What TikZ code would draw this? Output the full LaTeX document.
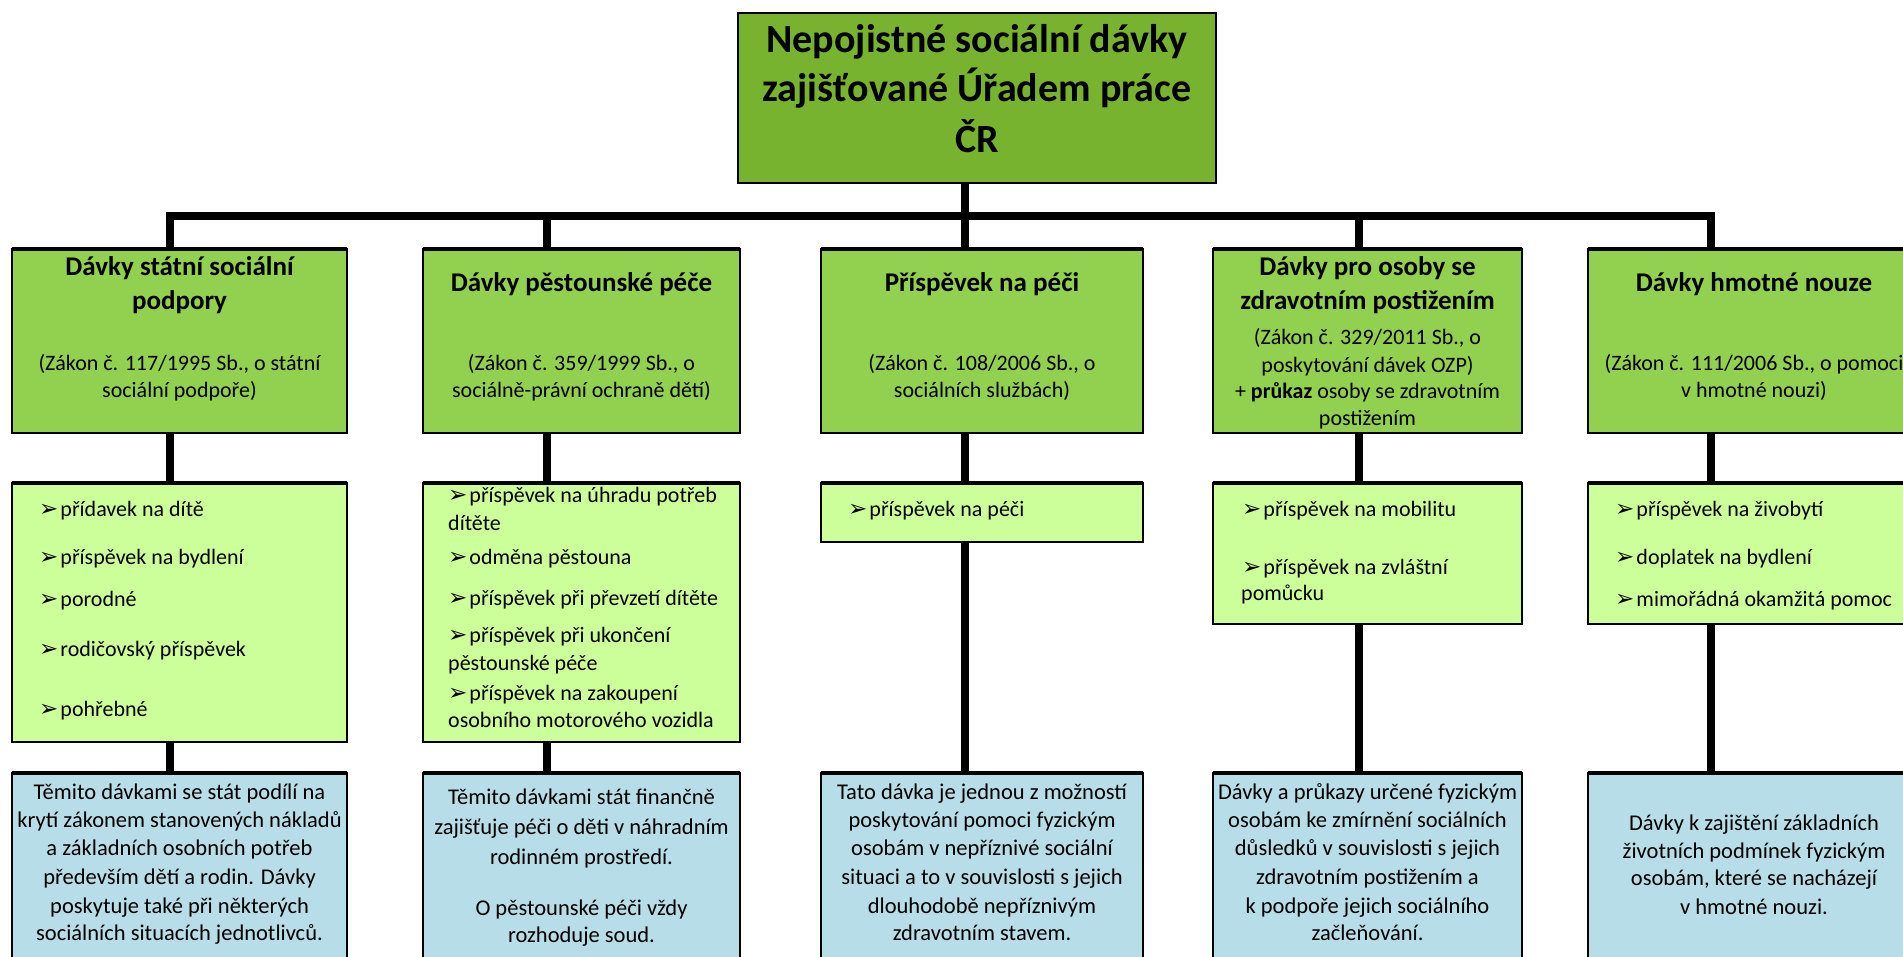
\documentclass[tikz,border=0pt]{standalone}
\usepackage{fontspec}
\setmainfont{Carlito}
\newfontfamily\dejavu{DejaVu Sans}
\newcommand{\arr}{{\dejavu\fontsize{23}{23}\selectfont\raisebox{-0.5pt}{➢}}\hspace{2pt}}
\definecolor{topgreen}{HTML}{77B32F}
\definecolor{lgreen}{HTML}{92D050}
\definecolor{pgreen}{HTML}{CCFF99}
\definecolor{lblue}{HTML}{B7DEE8}
\tikzset{
  box/.style={draw=black, line width=2.2pt, inner sep=0pt, outer sep=0pt, anchor=north west},
  conn/.style={line width=8.5pt, black, line join=miter},
  topedge/.style={line width=4pt, black},
  toptxt/.style={font=\bfseries\fontsize{40}{48}\selectfont, anchor=mid, inner sep=0pt},
  ttl/.style={font=\bfseries\fontsize{27}{33}\selectfont, anchor=mid, inner sep=0pt},
  law/.style={font=\fontsize{22}{27}\selectfont, anchor=mid, inner sep=0pt},
  item/.style={font=\fontsize{22}{28}\selectfont, anchor=mid west, inner sep=0pt},
  desc/.style={font=\fontsize{22.5}{28}\selectfont, anchor=mid, inner sep=0pt}
}
\begin{document}
\begin{tikzpicture}[x=1pt,y=-1pt]
\fill[white] (0,0) rectangle (1903,957);
\useasboundingbox (0,0) rectangle (1903,957);
\clip (0,0) rectangle (1903,957);

% helper coordinates
\coordinate (bus) at (0,216);
\coordinate (d0) at (965,0);
\coordinate (d1) at (170,0);
\coordinate (d2) at (547,0);
\coordinate (d3) at (965,0);
\coordinate (d4) at (1359,0);
\coordinate (d5) at (1711,0);

% boxes
\node[box, fill=topgreen, minimum width=478pt, minimum height=170pt] (top) at (738,13) {};

\node[box, fill=lgreen, minimum width=335pt, minimum height=184pt] (l1a) at (12,249) {};
\node[box, fill=lgreen, minimum width=317pt, minimum height=184pt] (l1b) at (423,249) {};
\node[box, fill=lgreen, minimum width=322pt, minimum height=184pt] (l1c) at (821,249) {};
\node[box, fill=lgreen, minimum width=309pt, minimum height=184pt] (l1d) at (1213,249) {};
\node[box, fill=lgreen, minimum width=332pt, minimum height=184pt] (l1e) at (1588,249) {};

\node[box, fill=pgreen, minimum width=335pt, minimum height=259pt] (l2a) at (12,483) {};
\node[box, fill=pgreen, minimum width=317pt, minimum height=259pt] (l2b) at (423,483) {};
\node[box, fill=pgreen, minimum width=322pt, minimum height=59pt] (l2c) at (821,483) {};
\node[box, fill=pgreen, minimum width=309pt, minimum height=141pt] (l2d) at (1213,483) {};
\node[box, fill=pgreen, minimum width=332pt, minimum height=141pt] (l2e) at (1588,483) {};

\node[box, fill=lblue, minimum width=335pt, minimum height=200pt] (l3a) at (12,773) {};
\node[box, fill=lblue, minimum width=317pt, minimum height=200pt] (l3b) at (423,773) {};
\node[box, fill=lblue, minimum width=322pt, minimum height=200pt] (l3c) at (821,773) {};
\node[box, fill=lblue, minimum width=309pt, minimum height=200pt] (l3d) at (1213,773) {};
\node[box, fill=lblue, minimum width=332pt, minimum height=200pt] (l3e) at (1588,773) {};

\foreach \n in {l1a,l1b,l1c,l1d,l1e,l2a,l2b,l2c,l2d,l2e,l3a,l3b,l3c,l3d,l3e}
  \draw[topedge] (\n.north west) -- (\n.north east);

% connectors
\draw[conn] (top.south -| d0) -- (d0 |- bus);
\draw[conn] (l1a.north -| d1) -- (d1 |- bus) -- (d5 |- bus) -- (l1e.north -| d5);
\draw[conn] (d2 |- bus) -- (l1b.north -| d2);
\draw[conn] (d3 |- bus) -- (l1c.north -| d3);
\draw[conn] (d4 |- bus) -- (l1d.north -| d4);

\draw[conn] (l1a.south -| d1) -- (l2a.north -| d1);
\draw[conn] (l1b.south -| d2) -- (l2b.north -| d2);
\draw[conn] (l1c.south -| d3) -- (l2c.north -| d3);
\draw[conn] (l1d.south -| d4) -- (l2d.north -| d4);
\draw[conn] (l1e.south -| d5) -- (l2e.north -| d5);

\draw[conn] (l2a.south -| d1) -- (l3a.north -| d1);
\draw[conn] (l2b.south -| d2) -- (l3b.north -| d2);
\draw[conn] (l2c.south -| d3) -- (l3c.north -| d3);
\draw[conn] (l2d.south -| d4) -- (l3d.north -| d4);
\draw[conn] (l2e.south -| d5) -- (l3e.north -| d5);

% top text
\node[toptxt] (tt1) at (977,50) {Nepojistné sociální dávky};
\node[toptxt] (tt2) at (977,99) {zajišťované Úřadem práce};
\node[toptxt] (tt3) at (977,150) {ČR};

% level 1 texts
\node[ttl] (h1a) at (179.5,273) {Dávky státní sociální};
\node[ttl] (h1b) at (179.5,307) {podpory};
\node[law] (g1a) at (179.5,368) {(Zákon č. 117/1995 Sb., o státní};
\node[law] (g1b) at (179.5,395) {sociální podpoře)};

\node[ttl] (h2a) at (581.5,289) {Dávky pěstounské péče};
\node[law] (g2a) at (581.5,368) {(Zákon č. 359/1999 Sb., o};
\node[law] (g2b) at (581.5,395) {sociálně-právní ochraně dětí)};

\node[ttl] (h3a) at (982,289) {Příspěvek na péči};
\node[law] (g3a) at (982,368) {(Zákon č. 108/2006 Sb., o};
\node[law] (g3b) at (982,395) {sociálních službách)};

\node[ttl] (h4a) at (1367.5,273) {Dávky pro osoby se};
\node[ttl] (h4b) at (1367.5,307) {zdravotním postižením};
\node[law] (g4a) at (1367.5,342) {(Zákon č. 329/2011 Sb., o};
\node[law] (g4b) at (1367.5,370) {poskytování dávek OZP)};
\node[law] (g4c) at (1367.5,396) {+ \textbf{průkaz} osoby se zdravotním};
\node[law] (g4d) at (1367.5,423) {postižením};

\node[ttl] (h5a) at (1754,289) {Dávky hmotné nouze};
\node[law] (g5a) at (1754,368) {(Zákon č. 111/2006 Sb., o pomoci};
\node[law] (g5b) at (1754,395) {v hmotné nouzi)};

% level 2 items
\node[item] (i1a) at (39,514) {\arr přídavek na dítě};
\node[item] (i1b) at (39,562) {\arr příspěvek na bydlení};
\node[item] (i1c) at (39,604) {\arr porodné};
\node[item] (i1d) at (39,654) {\arr rodičovský příspěvek};
\node[item] (i1e) at (39,714) {\arr pohřebné};

\node[item] (i2a) at (448,500) {\arr příspěvek na úhradu potřeb};
\node[item] (i2b) at (448,528) {dítěte};
\node[item] (i2c) at (448,562) {\arr odměna pěstouna};
\node[item] (i2d) at (448,603) {\arr příspěvek při převzetí dítěte};
\node[item] (i2e) at (448,640) {\arr příspěvek při ukončení};
\node[item] (i2f) at (448,668) {pěstounské péče};
\node[item] (i2g) at (448,698) {\arr příspěvek na zakoupení};
\node[item] (i2h) at (448,725) {osobního motorového vozidla};

\node[item] (i3a) at (848,514) {\arr příspěvek na péči};

\node[item] (i4a) at (1242,514) {\arr příspěvek na mobilitu};
\node[item] (i4b) at (1242,572) {\arr příspěvek na zvláštní};
\node[item] (i4c) at (1241,598) {pomůcku};

\node[item] (i5a) at (1615,514) {\arr příspěvek na živobytí};
\node[item] (i5b) at (1615,562) {\arr doplatek na bydlení};
\node[item] (i5c) at (1615,604) {\arr mimořádná okamžitá pomoc};

% level 3 descriptions
\node[desc] (e1a) at (179.5,797) {Těmito dávkami se stát podílí na};
\node[desc] (e1b) at (179.5,825) {krytí zákonem stanovených nákladů};
\node[desc] (e1c) at (179.5,853) {a základních osobních potřeb};
\node[desc] (e1d) at (179.5,882) {především dětí a rodin. Dávky};
\node[desc] (e1e) at (179.5,911) {poskytuje také při některých};
\node[desc] (e1f) at (179.5,938) {sociálních situacích jednotlivců.};

\node[desc] (e2a) at (581.5,802) {Těmito dávkami stát finančně};
\node[desc] (e2b) at (581.5,832) {zajišťuje péči o děti v náhradním};
\node[desc] (e2c) at (581.5,862) {rodinném prostředí.};
\node[desc] (e2d) at (581.5,913) {O pěstounské péči vždy};
\node[desc] (e2e) at (581.5,940) {rozhoduje soud.};

\node[desc] (e3a) at (982,797) {Tato dávka je jednou z možností};
\node[desc] (e3b) at (982,825) {poskytování pomoci fyzickým};
\node[desc] (e3c) at (982,853) {osobám v nepříznivé sociální};
\node[desc] (e3d) at (982,882) {situaci a to v souvislosti s jejich};
\node[desc] (e3e) at (982,911) {dlouhodobě nepříznivým};
\node[desc] (e3f) at (982,938) {zdravotním stavem.};

\node[desc] (e4a) at (1367.5,797) {Dávky a průkazy určené fyzickým};
\node[desc] (e4b) at (1367.5,825) {osobám ke zmírnění sociálních};
\node[desc] (e4c) at (1367.5,853) {důsledků v souvislosti s jejich};
\node[desc] (e4d) at (1367.5,882) {zdravotním postižením a};
\node[desc] (e4e) at (1367.5,911) {k podpoře jejich sociálního};
\node[desc] (e4f) at (1367.5,938) {začleňování.};

\node[desc] (e5a) at (1754,828) {Dávky k zajištění základních};
\node[desc] (e5b) at (1754,856) {životních podmínek fyzickým};
\node[desc] (e5c) at (1754,883) {osobám, které se nacházejí};
\node[desc] (e5d) at (1754,912) {v hmotné nouzi.};
\end{tikzpicture}
\end{document}
